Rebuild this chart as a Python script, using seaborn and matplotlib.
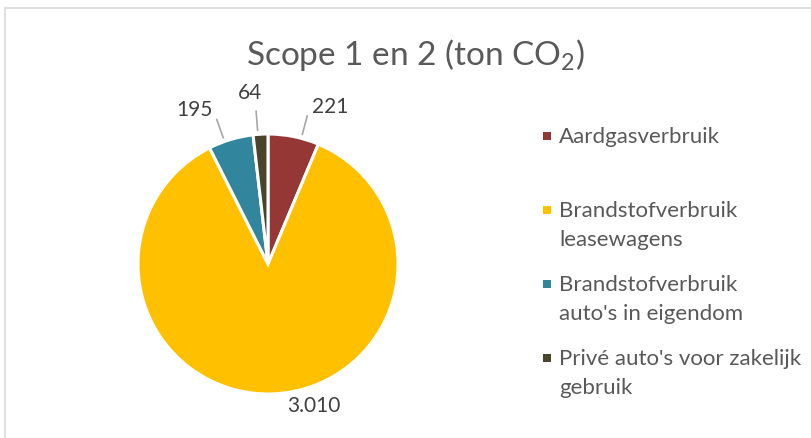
import numpy as np
import matplotlib
matplotlib.use("Agg")
import matplotlib.pyplot as plt
import seaborn as sns
from matplotlib.patches import Rectangle

# ── DATA ──────────────────────────────────────────────
categories = ["Aardgasverbruik",
              "Brandstofverbruik\nleasewagens",
              "Brandstofverbruik\nauto's in eigendom",
              "Privé auto's voor zakelijk\ngebruik"]
values = [221, 3010, 195, 64]
value_labels = ["221", "3.010", "195", "64"]
colors = ["#953735", "#FFC000", "#31859C", "#4A452A"]

sns.set_theme(style="white")
plt.rcParams["font.family"] = ["Lato", "DejaVu Sans"]
plt.rcParams["mathtext.default"] = "regular"

W, H = 811, 439
fig = plt.figure(figsize=(W / 100, H / 100), dpi=100)

# light chart frame
fig.patches.append(Rectangle((5 / W, -0.1), 1.1, 1.1 - 9 / H, transform=fig.transFigure,
                             fill=False, edgecolor="#D9D9D9", linewidth=1.2))

# pie axes: centre (268, 265) px, radius 130 px
R = 130
cx, cy = 268, H - 265
span = 1.5
ax = fig.add_axes([(cx - span * R) / W, (cy - span * R) / H, 2 * span * R / W, 2 * span * R / H])
palette = sns.color_palette(colors)
wedges, _ = ax.pie(values, colors=palette, startangle=90, counterclock=False,
                   wedgeprops=dict(edgecolor="white", linewidth=2.2))
ax.set_xlim(-span, span)
ax.set_ylim(-span, span)
ax.set_aspect("equal")
ax.axis("off")

# data labels with leader lines
lbl_col = "#404040"
line_col = "#A6A6A6"
fs_lbl = 15
for i, w in enumerate(wedges):
    mid = np.deg2rad((w.theta1 + w.theta2) / 2)
    if values[i] > 1000:
        ang = mid + np.deg2rad(16)
        ax.text(1.14 * np.cos(ang), 1.14 * np.sin(ang), value_labels[i],
                ha="center", va="center", fontsize=fs_lbl, color=lbl_col)
        continue
    shift = {0: -0.06, 2: 0.05, 3: 0.02}[i]
    a = mid + shift
    x0, y0 = 1.03 * np.cos(a), 1.03 * np.sin(a)
    x1, y1 = 1.18 * np.cos(a), 1.18 * np.sin(a)
    ax.plot([x0, x1], [y0, y1], color=line_col, lw=1.2)
    if np.cos(a) > 0:
        ax.text(x1 + 0.04, y1 + 0.0, value_labels[i], ha="left", va="bottom",
                fontsize=fs_lbl, color=lbl_col)
    elif i == 3:
        ax.text(x1 + 0.05, y1 + 0.07, value_labels[i], ha="right", va="bottom",
                fontsize=fs_lbl, color=lbl_col)
    else:
        ax.text(x1 - 0.03, y1 + 0.0, value_labels[i], ha="right", va="bottom",
                fontsize=fs_lbl, color=lbl_col)

# title
fig.text(415 / W, 1 - 55 / H, "Scope 1 en 2 (ton CO$_2$)", ha="center", va="center",
         fontsize=24, color="#595959")

# legend, drawn by hand so the markers sit on the first line
leg_x, leg_y0, leg_dy = 547, 137, 74
for i, name in enumerate(categories):
    y = leg_y0 + i * leg_dy
    fig.patches.append(Rectangle(((leg_x - 4) / W, 1 - (y + 4) / H), 8 / W, 8 / H,
                                 transform=fig.transFigure, facecolor=palette[i],
                                 edgecolor="none"))
    lines = name.split("\n")
    for j, line in enumerate(lines):
        fig.text(559 / W, 1 - (y + 29 * j) / H, line, ha="left", va="center",
                 fontsize=16, color="#595959")

fig.savefig("out.png", dpi=100)
